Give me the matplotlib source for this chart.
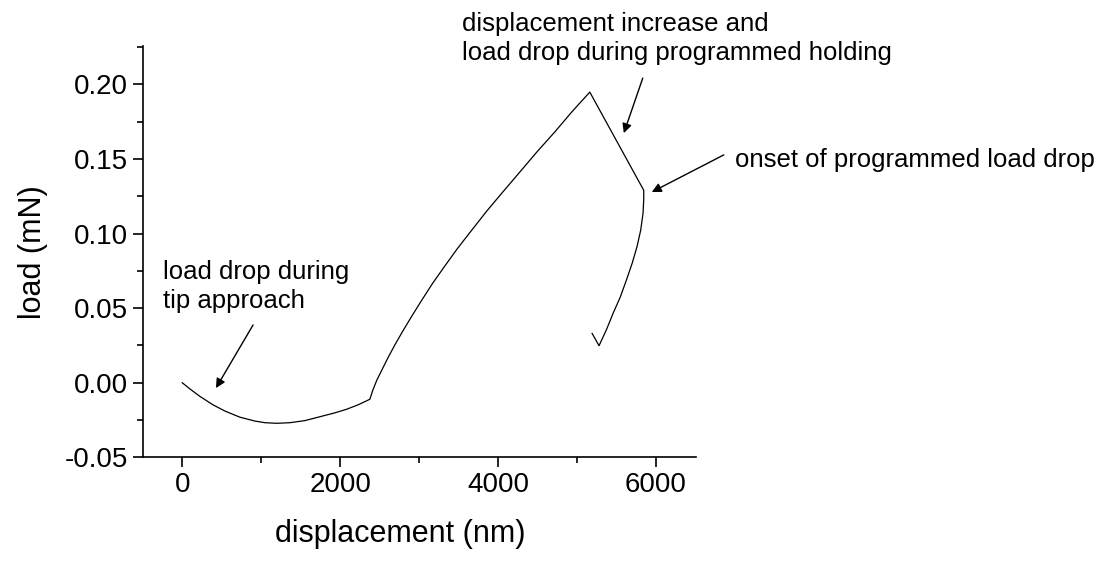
"""
Load-displacement curve with annotations
"""
import numpy as np
import matplotlib
matplotlib.use('Agg')
import matplotlib.pyplot as plt

plt.rcParams['font.family'] = ['Liberation Sans', 'DejaVu Sans']

# approach segment (tip approaching surface)
approach_x = [0, 98, 225, 389, 541, 730, 920, 1047, 1199, 1363, 1553, 1743, 1933, 2081, 2224, 2376]
approach_y = [0.0, -0.0042, -0.0092, -0.0148, -0.0190, -0.0231, -0.0257, -0.0268, -0.0272,
              -0.0268, -0.0254, -0.0228, -0.0202, -0.0178, -0.0149, -0.0111]

# loading segment
loading_x = [2376, 2414, 2465, 2528, 2604, 2692, 2794, 2908, 3034, 3173, 3325,
             3490, 3667, 3857, 4059, 4275, 4490, 4718, 4933, 5161]
loading_y = [-0.0111, -0.0049, 0.0018, 0.0085, 0.0166, 0.0253, 0.0347, 0.0447, 0.0554, 0.0668,
             0.0782, 0.0903, 0.1023, 0.1151, 0.1278, 0.1412, 0.1546, 0.1681, 0.1815, 0.1948]

# holding segment
holding_x = [5161, 5844]
holding_y = [0.1948, 0.129]

# unloading segment
unloading_x = [5844, 5844, 5835, 5806, 5759, 5699, 5625, 5547, 5456, 5370, 5278, 5190]
unloading_y = [0.129, 0.1225, 0.1135, 0.1023, 0.0912, 0.0803, 0.0688, 0.0574, 0.0465,
               0.0353, 0.0248, 0.0331]

disp = approach_x + loading_x[1:] + holding_x[1:] + unloading_x[1:]
load = approach_y + loading_y[1:] + holding_y[1:] + unloading_y[1:]

fig = plt.figure(figsize=(11.1, 5.65), dpi=100)
ax = fig.add_axes([0.1286, 0.1906, 0.498, 0.728])

ax.plot(disp, load, color='black', lw=0.9)

ax.set_xlim(-500, 6500)
ax.set_ylim(-0.05, 0.2257)
ax.set_xticks([0, 2000, 4000, 6000])
ax.set_xticks([1000, 3000, 5000], minor=True)
ax.set_yticks([-0.05, 0.0, 0.05, 0.10, 0.15, 0.20])
ax.set_yticklabels(['-0.05', '0.00', '0.05', '0.10', '0.15', '0.20'])
ax.set_yticks([-0.025, 0.025, 0.075, 0.125, 0.175, 0.225], minor=True)

ax.spines['top'].set_visible(False)
ax.spines['right'].set_visible(False)
ax.spines['left'].set_linewidth(1.2)
ax.spines['bottom'].set_linewidth(1.2)
ax.tick_params(which='major', direction='out', length=7, width=1.2, labelsize=20)
ax.tick_params(which='minor', direction='out', length=4, width=1.2)

ax.set_xlabel('displacement (nm)', fontsize=22, labelpad=8)
ax.xaxis.set_label_coords(0.466, -0.15)
ax.set_ylabel('load (mN)', fontsize=22, labelpad=12)

arrow = dict(arrowstyle='-|>', color='black', lw=1, mutation_scale=14, shrinkA=0, shrinkB=0)

ax.text(3540, 0.2485, 'displacement increase and\nload drop during programmed holding',
        fontsize=18.5, ha='left', va='top', linespacing=1.25, clip_on=False)
ax.annotate('', xy=(5592, 0.1673), xytext=(5832, 0.2042),
            annotation_clip=False, arrowprops=arrow)

ax.text(7000, 0.1492, 'onset of programmed load drop', fontsize=18.5,
        ha='left', va='center', clip_on=False)
ax.annotate('', xy=(5946, 0.1278), xytext=(6858, 0.1527),
            annotation_clip=False, arrowprops=arrow)

ax.text(-244, 0.0822, 'load drop during\ntip approach', fontsize=18.5,
        ha='left', va='top', linespacing=1.25, clip_on=False)
ax.annotate('', xy=(427, -0.0036), xytext=(897, 0.0387),
            annotation_clip=False, arrowprops=arrow)

fig.savefig('out.png', dpi=100)
